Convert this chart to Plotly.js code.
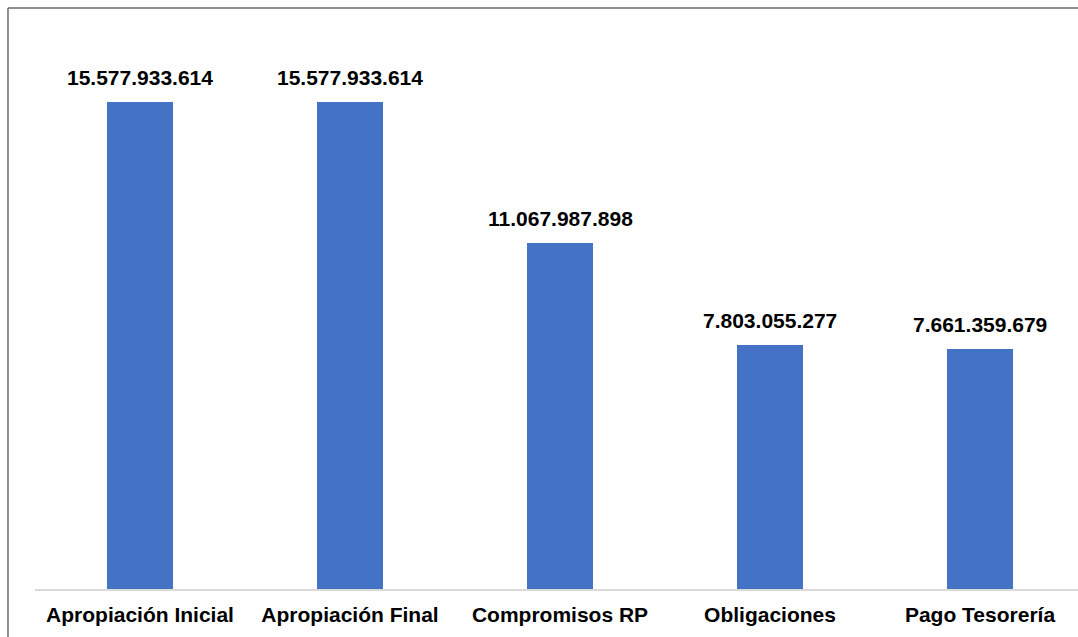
<!DOCTYPE html>
<html>
<head>
<meta charset="utf-8">
<script src="https://cdn.plot.ly/plotly-3.0.1.min.js"></script>
<style>
  html, body { margin: 0; padding: 0; background: #ffffff; }
  #chart { width: 1078px; height: 637px; }
</style>
</head>
<body>
<div id="chart"></div>
<script>
const categories = ["Apropiación Inicial", "Apropiación Final", "Compromisos RP", "Obligaciones", "Pago Tesorería"];
const values = [15577933614, 15577933614, 11067987898, 7803055277, 7661359679];

function fmt(n) {
  return String(Math.round(n)).replace(/\B(?=(\d{3})+(?!\d))/g, ".");
}

const FONT = "Liberation Sans, Arial, Helvetica, sans-serif";

const trace = {
  type: "bar",
  x: categories,
  y: values,
  width: 0.314,
  marker: { color: "#4472C4", line: { width: 0 } },
  hoverinfo: "skip"
};

const annotations = categories.map((c, i) => ({
  x: c,
  y: values[i],
  xref: "x",
  yref: "y",
  text: "<b>" + fmt(values[i]) + "</b>",
  showarrow: false,
  yanchor: "bottom",
  yshift: 11,
  font: { family: FONT, size: 21, color: "#000000" }
}));

const layout = {
  width: 1078,
  height: 637,
  margin: { l: 35, r: 0, t: 8, b: 48 },
  paper_bgcolor: "#ffffff",
  plot_bgcolor: "#ffffff",
  showlegend: false,
  bargap: 0,
  xaxis: {
    type: "category",
    range: [-0.5, 4.4667],
    showgrid: false,
    zeroline: false,
    showline: true,
    linecolor: "#d9d9d9",
    linewidth: 1.5,
    ticks: "",
    ticklabelstandoff: 6,
    tickfont: { family: FONT, size: 21, color: "#000000", weight: "bold" },
    fixedrange: true
  },
  yaxis: {
    range: [0, 18585000000],
    showgrid: false,
    zeroline: false,
    showline: false,
    showticklabels: false,
    ticks: "",
    fixedrange: true
  },
  annotations: annotations,
  shapes: [
    { type: "line", xref: "paper", yref: "paper", x0: -0.0259, x1: 1.01, y0: 1, y1: 1,
      line: { color: "#6b6b6b", width: 1.5 } },
    { type: "line", xref: "paper", yref: "paper", x0: -0.0259, x1: -0.0259, y0: 1, y1: -0.1,
      line: { color: "#6b6b6b", width: 1.5 } }
  ]
};

Plotly.newPlot("chart", [trace], layout, { displayModeBar: false, staticPlot: true });
</script>
</body>
</html>
